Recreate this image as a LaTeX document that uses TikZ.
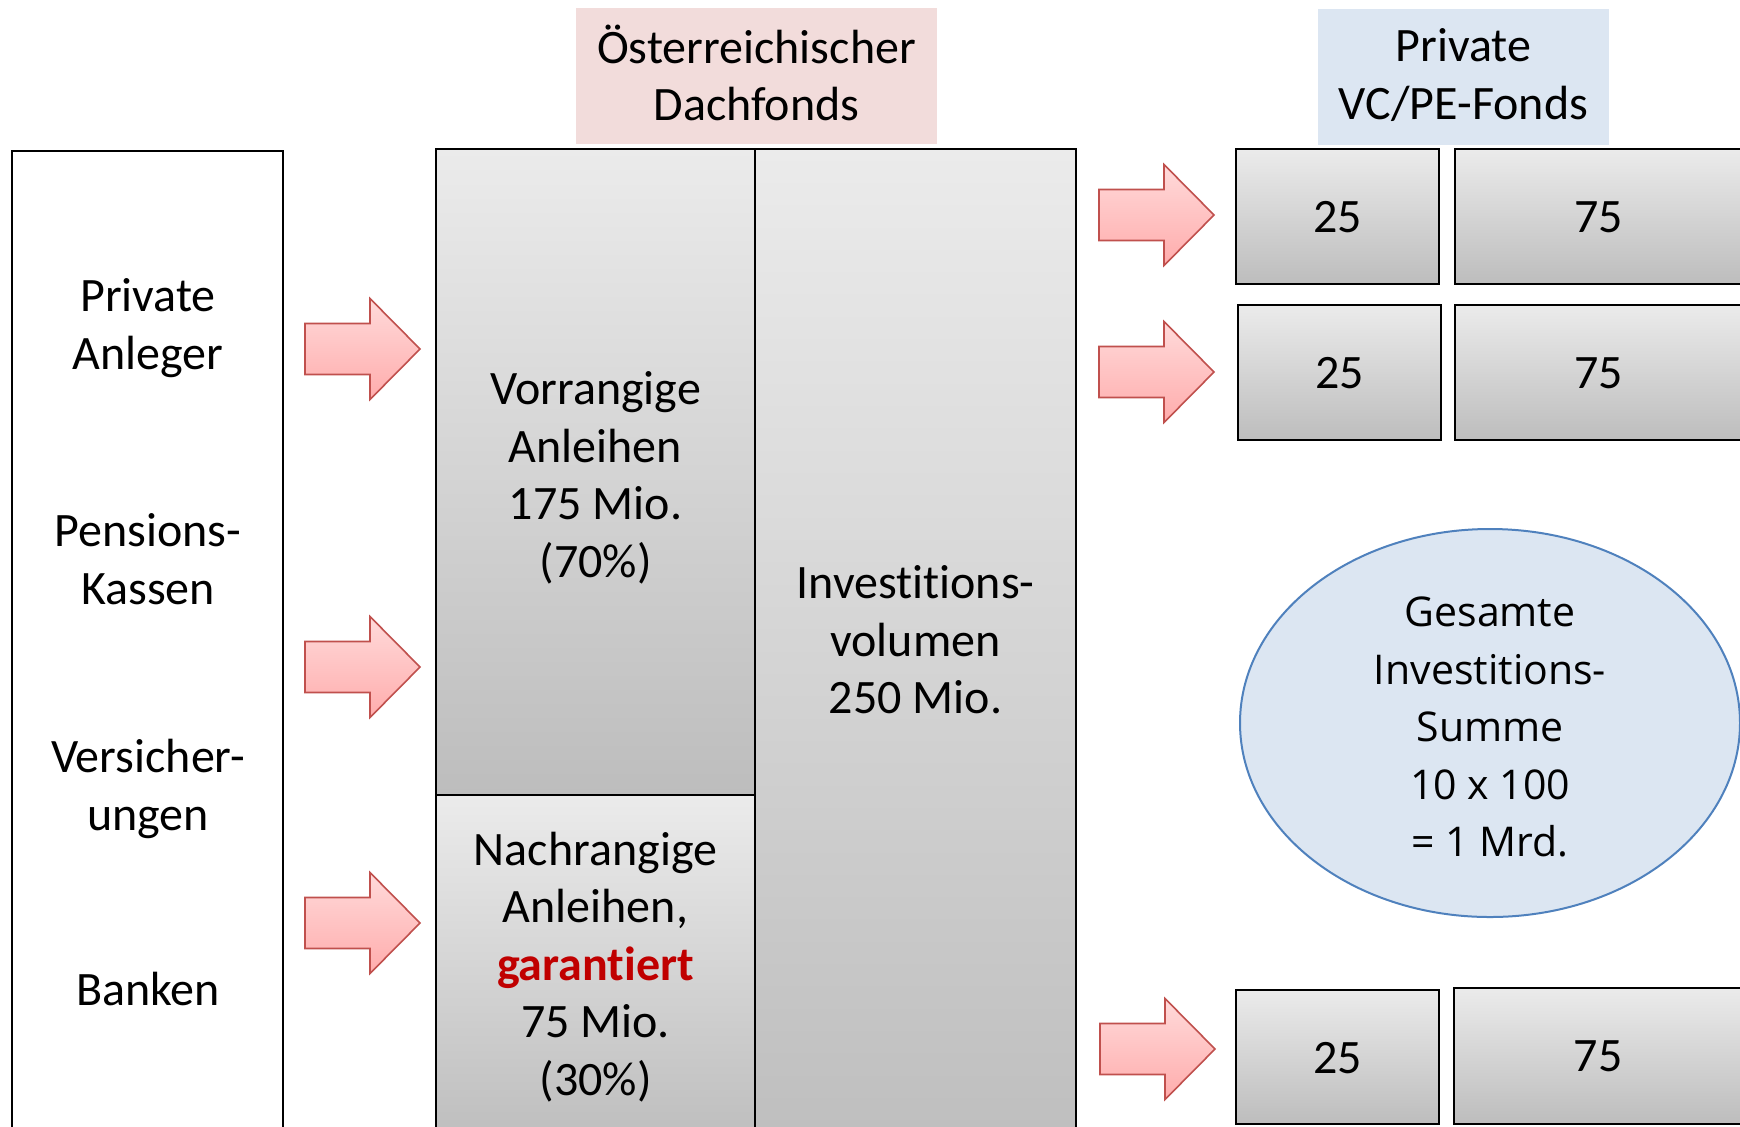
\documentclass[tikz,border=0pt]{standalone}
\usepackage{fontspec}
\setmainfont{Carlito}[Ligatures=NoCommon]
\newfontfamily\osans{Open Sans}
\usetikzlibrary{fit,shapes.geometric}
\definecolor{pinkhdr}{HTML}{F2DCDB}
\definecolor{bluehdr}{HTML}{DCE6F2}
\definecolor{ellline}{HTML}{4F81BD}
\definecolor{arrline}{HTML}{C0504D}
\definecolor{arrtop}{HTML}{FFDADA}
\definecolor{arrbot}{HTML}{FFACAC}
\definecolor{gtop}{HTML}{EBEBEB}
\definecolor{gbot}{HTML}{BDBDBD}
\definecolor{gmid}{HTML}{BFBFBF}
\definecolor{garred}{HTML}{C00000}
\begin{document}
\begin{tikzpicture}[x=0.5pt,y=-0.5pt,
  txt/.style={font=\fontsize{24}{28.75}\selectfont, align=center},
  greybox/.style={draw=black, line width=1pt, top color=gtop, bottom color=gbot, inner sep=0pt},
  hdr/.style={inner sep=0pt},
  blockarrow/.style={draw=arrline, line width=0.8pt, top color=arrtop, bottom color=arrbot, line join=miter},
  pics/barrow/.style={code={\path[blockarrow] (0,-25.5) -- (65,-25.5) -- (65,-50.5) -- (115,0) -- (65,50.5) -- (65,25.5) -- (0,25.5) -- cycle;}}
]
\useasboundingbox (0,0) rectangle (1740,1126);
\fill[white] (0,0) rectangle (1740,1126);

% headers
\node[hdr, fill=pinkhdr, fit={(576,8)(937,144)}] (dach) {};
\node[txt, yshift=1.5pt] (dachT) at (dach.center) {Österreichischer\\Dachfonds};
\node[hdr, fill=bluehdr, fit={(1318,9)(1609,145)}] (vcpe) {};
\node[txt, yshift=1pt] (vcpeT) at (vcpe.center) {Private\\VC/PE-Fonds};

% investors
\node[draw=black, line width=1pt, inner sep=0pt, fit={(12,151)(283,1140)}] (investors) {};
\node[txt] (priv) at (148,328) {Private\\Anleger};
\node[txt] (pens) at (148,559) {Pensions-\\Kassen};
\node[txt] (vers) at (148,789) {Versicher-\\ungen};
\node[txt] (bank) at (148,989) {Banken};

% fund of funds
\node[greybox, fit={(436,149)(755,795)}] (vor) {};
\node[txt, yshift=-3pt] (vorT) at (vor.center) {Vorrangige\\Anleihen\\175 Mio.\\(70\%)};
\node[greybox, bottom color=gmid, fit={(436,795)(755,1131)}] (nach) {};
\node[txt, yshift=-2pt] (nachT) at (nach.center) {Nachrangige\\Anleihen,\\\textcolor{garred}{\textbf{garantiert}}\\75 Mio.\\(30\%)};
\node[greybox, bottom color=gmid, fit={(755,149)(1076,1131)}] (vol) {};
\node[txt] (volT) at (vol.center) {Investitions-\\volumen\\250 Mio.};

% private funds
\node[greybox, fit={(1236,149)(1439,284)}] (a25) {};
\node[txt, yshift=-0.5pt] at (a25.center) {25};
\node[greybox, fit={(1455,149)(1742,284)}] (a75) {};
\node[txt, yshift=-0.5pt] at (a75.center) {75};
\node[greybox, fit={(1238,305)(1441,440)}] (b25) {};
\node[txt, yshift=-0.5pt] at (b25.center) {25};
\node[greybox, fit={(1455,305)(1742,440)}] (b75) {};
\node[txt, yshift=-0.5pt] at (b75.center) {75};
\node[greybox, fit={(1236,990)(1439,1124)}] (c25) {};
\node[txt, yshift=-0.5pt] at (c25.center) {25};
\node[greybox, fit={(1454,988)(1742,1124)}] (c75) {};
\node[txt] at (c75.center) {75};

% total
\node[ellipse, draw=ellline, line width=1pt, fill=bluehdr, minimum width=250pt, minimum height=194pt, inner sep=0pt] (sum) at (1490,723) {};
\node[font=\osans\fontsize{20.5}{28.75}\selectfont, align=center, yshift=-2pt] (sumT) at (sum.center)
  {Gesamte\\Investitions-\\Summe\\10 x 100\\= 1 Mrd.};

% block arrows
\pic (l1) at (305,349) {barrow};
\pic (l2) at (305,667) {barrow};
\pic (l3) at (305,923) {barrow};
\pic (r1) at (1099,215) {barrow};
\pic (r2) at (1099,372) {barrow};
\pic (r3) at (1100,1049) {barrow};
\end{tikzpicture}
\end{document}
